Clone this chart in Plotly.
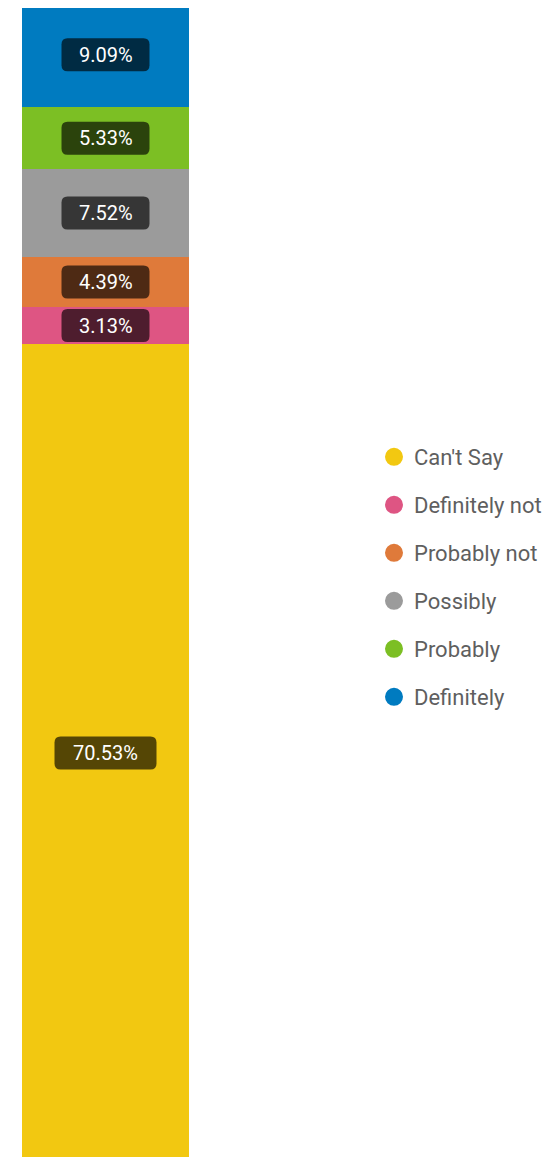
import plotly.graph_objects as go

categories = ["Can't Say", "Definitely not", "Probably not", "Possibly", "Probably", "Definitely"]
values = [70.53, 3.13, 4.39, 7.52, 5.33, 9.09]
colors = ["#F2C811", "#DE5583", "#DF7A3A", "#9B9B9B", "#7CBF24", "#007BC0"]

W, H = 560, 1157
FONT = "Roboto"
OFF = 8  # page body offset

fig = go.Figure()
for cat, val, col in zip(categories, values, colors):
    fig.add_trace(go.Bar(x=[0], y=[val], name=cat, marker=dict(color=col, line=dict(width=0)),
                         width=1, showlegend=False, hoverinfo="skip"))
for cat, col in zip(categories, colors):
    fig.add_trace(go.Scatter(x=[None], y=[None], mode="markers", name=cat, legendgroup=cat,
                             marker=dict(symbol="circle", size=16, color=col,
                                         line=dict(width=2, color=col)),
                             showlegend=True))

total = sum(values)
# bar spans page y 2 .. 1162 (bottom slightly beyond the visible window)
BAR_TOP, BAR_BOT = 2, 1162
ytop = total * (BAR_BOT - OFF) / (BAR_BOT - BAR_TOP)

shapes = []
annotations = []
cum = 0.0
for val in values:
    mid = cum + val / 2
    cum += val
    txt = f"{val:.2f}%"
    w = 18 + 14 * len(txt)
    h = 33
    r = 6
    a, b = w / 2, h / 2
    path = (f"M {-a + r},{-b} L {a - r},{-b} Q {a},{-b} {a},{-b + r} "
            f"L {a},{b - r} Q {a},{b} {a - r},{b} L {-a + r},{b} Q {-a},{b} {-a},{b - r} "
            f"L {-a},{-b + r} Q {-a},{-b} {-a + r},{-b} Z")
    shapes.append(dict(type="path", path=path, xref="x", yref="y", xsizemode="pixel",
                       ysizemode="pixel", xanchor=0, yanchor=mid,
                       fillcolor="rgba(0,0,0,0.65)", line=dict(width=0), layer="above"))
    annotations.append(dict(x=0, y=mid, xref="x", yref="y", text=txt, showarrow=False,
                            font=dict(family=FONT, size=20, color="white")))

fig.update_layout(
    width=W, height=H,
    barmode="stack",
    bargap=0,
    margin=dict(l=0, r=0, t=0, b=H - (BAR_BOT - OFF)),
    paper_bgcolor="white", plot_bgcolor="white",
    xaxis=dict(range=[-0.5, 0.5], domain=[(22 - OFF) / W, (189 - OFF) / W], visible=False,
               fixedrange=True),
    yaxis=dict(range=[0, ytop], visible=False, fixedrange=True),
    shapes=shapes,
    annotations=annotations,
    legend=dict(x=(374 - OFF) / W, xanchor="left", y=0.5069, yanchor="middle",
                traceorder="grouped", tracegroupgap=16.4,
                font=dict(family=FONT, size=22, color="#5F5F5F"),
                bgcolor="rgba(0,0,0,0)"),
    showlegend=True,
)

fig.write_html("out.html")
